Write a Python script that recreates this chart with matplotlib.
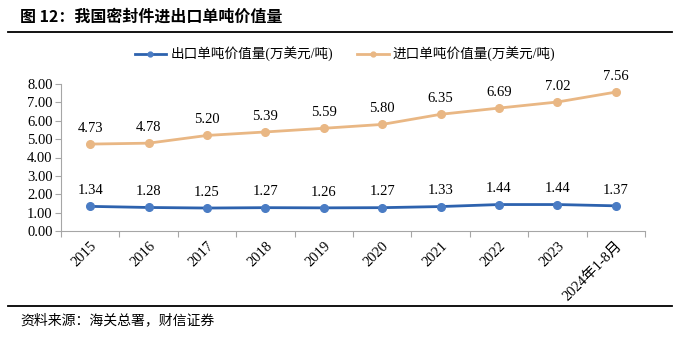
import numpy as np
import matplotlib.pyplot as plt
from matplotlib.lines import Line2D

plt.rcParams['font.family'] = ['Liberation Serif', 'Noto Sans CJK SC']

years = ["2015", "2016", "2017", "2018", "2019", "2020", "2021", "2022", "2023", "2024年1-8月"]
export_val = [1.34, 1.28, 1.25, 1.27, 1.26, 1.27, 1.33, 1.44, 1.44, 1.37]
import_val = [4.73, 4.78, 5.20, 5.39, 5.59, 5.80, 6.35, 6.69, 7.02, 7.56]
yticks = [0, 1, 2, 3, 4, 5, 6, 7, 8]

c_exp = "#2D62AE"
c_imp = "#E9B784"
grey = "#A6A6A6"

fig = plt.figure(figsize=(6.91, 3.44), dpi=100)
ax = fig.add_axes([61 / 691, 1 - 231 / 344, 584 / 691, 147 / 344])

x = np.arange(len(years))
ax.plot(x, export_val, color=c_exp, lw=2, marker="o", ms=5.5, mfc="#4A7CC4", mec="#4A7CC4")
ax.plot(x, import_val, color=c_imp, lw=2, marker="o", ms=5.5, mfc=c_imp, mec=c_imp)
for i in range(len(years)):
    ax.text(x[i], export_val[i] + 0.5, f"{export_val[i]:.2f}", ha="center", va="bottom", fontsize=10.5)
    ax.text(x[i], import_val[i] + 0.5, f"{import_val[i]:.2f}", ha="center", va="bottom", fontsize=10.5)

ax.set_xlim(-0.5, len(years) - 0.5)
ax.set_ylim(0, 8)
ax.set_yticks(yticks)
ax.set_yticklabels([f"{v:.2f}" for v in yticks], fontsize=10.5)
ax.set_xticks(np.arange(len(years) + 1) - 0.5, minor=False)
ax.set_xticklabels([])
ax.set_xticks(x, minor=True)
ax.set_xticklabels(years, minor=True, rotation=45, ha="right", va="top", rotation_mode="anchor", fontsize=10.5)
ax.tick_params(axis="x", which="minor", length=0, pad=6)
ax.tick_params(axis="x", which="major", length=4, color=grey, direction="out")
ax.tick_params(axis="y", length=4, color=grey, direction="out", pad=2)
for s in ["top", "right"]:
    ax.spines[s].set_visible(False)
ax.spines["left"].set_color(grey)
ax.spines["bottom"].set_color(grey)

handles = [
    Line2D([], [], color=c_exp, lw=2, marker="o", ms=3.5, mfc="#4A7CC4", mec="#4A7CC4"),
    Line2D([], [], color=c_imp, lw=2, marker="o", ms=3.5, mfc=c_imp, mec=c_imp),
]
fig.legend(handles, ["出口单吨价值量(万美元/吨)", "进口单吨价值量(万美元/吨)"], loc="center",
           bbox_to_anchor=(345 / 691, 1 - 54 / 344), ncol=2, frameon=False, fontsize=9.8,
           handlelength=2.3, columnspacing=1.8, handletextpad=0.3)

fig.text(20 / 691, 1 - 17 / 344, "图 12：我国密封件进出口单吨价值量", fontsize=11.5, fontweight="bold",
         va="center", ha="left", family=["Noto Sans CJK SC"])
fig.add_artist(Line2D([8 / 691, 672 / 691], [1 - 32 / 344, 1 - 32 / 344], color="black", lw=1.3))
fig.add_artist(Line2D([8 / 691, 672 / 691], [1 - 306 / 344, 1 - 306 / 344], color="black", lw=1.3))
fig.text(20 / 691, 1 - 320 / 344, "资料来源：海关总署，财信证券", fontsize=10, style="italic",
         va="center", ha="left", family=["Noto Sans CJK SC"])

fig.savefig("out.png", dpi=100)
